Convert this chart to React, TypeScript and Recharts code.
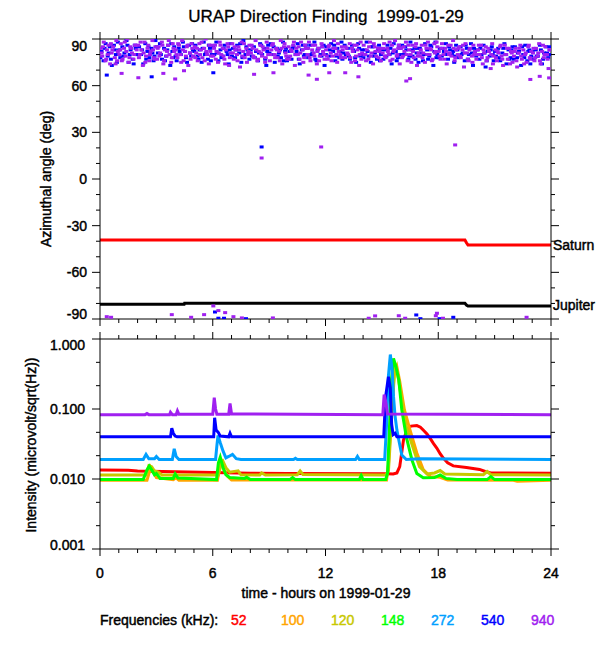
import React from "react";
import { ComposedChart, Scatter, Line, XAxis, YAxis } from "recharts";

const FONT = "'Liberation Sans', Arial, Helvetica, sans-serif";

// tick positions
const hourTicks = [0, 1, 2, 3, 4, 5, 6, 7, 8, 9, 10, 11, 12, 13, 14, 15, 16, 17, 18, 19, 20, 21, 22, 23, 24];
const angleTicks = [-90, -80, -70, -60, -50, -40, -30, -20, -10, 0, 10, 20, 30, 40, 50, 60, 70, 80, 90];
const intensityTicks = [1, 0.4642, 0.2154, 0.1, 0.04642, 0.02154, 0.01, 0.004642, 0.002154, 0.001];
const intensityLabels = [1, 0.1, 0.01, 0.001];

const freqLabels = ["52", "100", "120", "148", "272", "540", "940"];
const freqColors = ["#ff0000", "#ffa500", "#c8c800", "#00ff00", "#00a0ff", "#0000ff", "#a020f0"];

// azimuth of the 940 kHz source, [hour, deg]
const az940: number[][] = [
  [0.04, 84], [0.12, 79], [0.2, 88], [0.29, 76], [0.37, 83], [0.45, 86], [0.54, 74], [0.62, 81], [0.7, 85], [0.79, 78], [0.87, 89], [0.95, 82],
  [1.03, 80], [1.11, 87], [1.2, 77], [1.28, 84], [1.36, 79], [1.45, 90], [1.53, 75], [1.61, 85], [1.7, 81], [1.78, 77], [1.86, 86], [1.95, 83],
  [2.03, 86], [2.12, 80], [2.2, 83], [2.28, 73], [2.37, 88], [2.45, 79], [2.53, 84], [2.62, 76], [2.7, 82], [2.79, 89], [2.87, 78], [2.95, 85],
  [3.04, 77], [3.12, 85], [3.2, 81], [3.29, 88], [3.37, 74], [3.45, 83], [3.54, 79], [3.62, 86], [3.7, 80], [3.79, 75], [3.87, 87], [3.95, 82],
  [4.03, 83], [4.12, 78], [4.2, 86], [4.28, 80], [4.37, 89], [4.45, 76], [4.53, 82], [4.62, 85], [4.7, 73], [4.79, 81], [4.87, 87], [4.95, 79],
  [5.04, 85], [5.12, 81], [5.2, 76], [5.29, 87], [5.37, 83], [5.45, 78], [5.54, 84], [5.62, 90], [5.7, 80], [5.79, 74], [5.87, 82], [5.95, 86],
  [6.03, 79], [6.12, 86], [6.2, 82], [6.28, 75], [6.37, 88], [6.45, 80], [6.53, 84], [6.62, 77], [6.7, 83], [6.79, 87], [6.87, 73], [6.95, 81],
  [7.04, 87], [7.12, 77], [7.2, 83], [7.29, 80], [7.37, 85], [7.45, 72], [7.54, 88], [7.62, 82], [7.7, 78], [7.79, 84], [7.87, 80], [7.95, 86],
  [8.03, 81], [8.12, 84], [8.2, 78], [8.28, 89], [8.37, 76], [8.45, 82], [8.53, 86], [8.62, 79], [8.7, 83], [8.79, 75], [8.87, 88], [8.95, 80],
  [9.04, 76], [9.12, 83], [9.2, 87], [9.29, 80], [9.37, 84], [9.45, 78], [9.54, 82], [9.62, 89], [9.7, 74], [9.79, 85], [9.87, 81], [9.95, 77],
  [10.03, 85], [10.12, 79], [10.2, 82], [10.28, 86], [10.37, 73], [10.45, 84], [10.53, 80], [10.62, 77], [10.7, 88], [10.79, 83], [10.87, 78], [10.95, 84],
  [11.04, 80], [11.12, 88], [11.2, 76], [11.29, 83], [11.37, 81], [11.45, 86], [11.54, 74], [11.62, 84], [11.7, 79], [11.79, 87], [11.87, 82], [11.95, 77],
  [12.03, 83], [12.12, 77], [12.2, 86], [12.28, 81], [12.37, 79], [12.45, 89], [12.53, 84], [12.62, 75], [12.7, 82], [12.79, 80], [12.87, 85], [12.95, 78],
  [13.04, 78], [13.12, 84], [13.2, 80], [13.29, 87], [13.37, 75], [13.45, 82], [13.54, 86], [13.62, 79], [13.7, 83], [13.79, 73], [13.87, 88], [13.95, 81],
  [14.03, 86], [14.12, 80], [14.2, 83], [14.28, 77], [14.37, 88], [14.45, 81], [14.53, 74], [14.62, 85], [14.7, 79], [14.79, 84], [14.87, 82], [14.95, 76],
  [15.04, 81], [15.12, 87], [15.2, 78], [15.29, 84], [15.37, 80], [15.45, 76], [15.54, 86], [15.62, 82], [15.7, 89], [15.79, 79], [15.87, 84], [15.95, 74],
  [16.03, 84], [16.12, 79], [16.2, 82], [16.28, 88], [16.37, 76], [16.45, 83], [16.53, 80], [16.62, 86], [16.7, 78], [16.79, 85], [16.87, 73], [16.95, 81],
  [17.04, 79], [17.12, 86], [17.2, 81], [17.29, 75], [17.37, 84], [17.45, 88], [17.54, 80], [17.62, 83], [17.7, 77], [17.79, 87], [17.87, 82], [17.95, 85],
  [18.03, 82], [18.12, 77], [18.2, 87], [18.28, 80], [18.37, 84], [18.45, 74], [18.53, 86], [18.62, 81], [18.7, 79], [18.79, 89], [18.87, 76], [18.95, 83],
  [19.04, 80], [19.12, 85], [19.2, 78], [19.29, 83], [19.37, 72], [19.45, 87], [19.54, 81], [19.62, 76], [19.7, 84], [19.79, 79], [19.87, 86], [19.95, 82],
  [20.03, 77], [20.12, 83], [20.2, 80], [20.28, 86], [20.37, 74], [20.45, 81], [20.53, 85], [20.62, 78], [20.7, 82], [20.79, 71], [20.87, 87], [20.95, 79],
  [21.04, 83], [21.12, 76], [21.2, 81], [21.29, 85], [21.37, 79], [21.45, 73], [21.54, 86], [21.62, 80], [21.7, 77], [21.79, 84], [21.87, 82], [21.95, 75],
  [22.03, 79], [22.12, 84], [22.2, 72], [22.28, 81], [22.37, 86], [22.45, 77], [22.53, 83], [22.62, 80], [22.7, 75], [22.79, 85], [22.87, 78], [22.95, 82],
  [23.04, 81], [23.12, 76], [23.2, 84], [23.29, 79], [23.37, 87], [23.45, 74], [23.53, 82], [23.62, 78], [23.7, 85], [23.79, 80], [23.87, 71], [23.95, 83],
  // second sweep
  [0.08, 81], [0.16, 85], [0.33, 77], [0.41, 80], [0.58, 87], [0.66, 83], [0.83, 74], [0.91, 76],
  [1.07, 83], [1.16, 76], [1.32, 88], [1.4, 82], [1.57, 78], [1.66, 84], [1.82, 80], [1.91, 86],
  [2.07, 78], [2.16, 88], [2.32, 81], [2.41, 75], [2.57, 86], [2.66, 80], [2.82, 83], [2.91, 77],
  [3.07, 84], [3.16, 79], [3.32, 86], [3.41, 76], [3.57, 82], [3.66, 89], [3.82, 78], [3.91, 84],
  [4.07, 80], [4.16, 87], [4.32, 75], [4.41, 83], [4.57, 79], [4.66, 86], [4.82, 77], [4.91, 84],
  [5.07, 78], [5.16, 84], [5.32, 80], [5.41, 88], [5.57, 76], [5.66, 82], [5.82, 86], [5.91, 79],
  [6.07, 84], [6.16, 77], [6.32, 81], [6.41, 86], [6.57, 79], [6.66, 74], [6.82, 85], [6.91, 78],
  [7.07, 81], [7.16, 85], [7.32, 76], [7.41, 83], [7.57, 79], [7.66, 87], [7.82, 75], [7.91, 82],
  [8.07, 86], [8.16, 79], [8.32, 83], [8.41, 77], [8.57, 81], [8.66, 85], [8.82, 78], [8.91, 84],
  [9.07, 80], [9.16, 86], [9.32, 78], [9.41, 83], [9.57, 76], [9.66, 84], [9.82, 87], [9.91, 79],
  [10.07, 77], [10.16, 83], [10.32, 88], [10.41, 80], [10.57, 85], [10.66, 81], [10.82, 75], [10.91, 86],
  [11.07, 84], [11.16, 78], [11.32, 86], [11.41, 79], [11.57, 82], [11.66, 76], [11.82, 85], [11.91, 80],
  [12.07, 79], [12.16, 85], [12.32, 76], [12.41, 84], [12.57, 80], [12.66, 87], [12.82, 78], [12.91, 83],
  [13.07, 85], [13.16, 81], [13.32, 78], [13.41, 84], [13.57, 76], [13.66, 86], [13.82, 80], [13.91, 77],
  [14.07, 80], [14.16, 76], [14.32, 85], [14.41, 79], [14.57, 87], [14.66, 82], [14.82, 78], [14.91, 84],
  [15.07, 84], [15.16, 79], [15.32, 82], [15.41, 88], [15.57, 77], [15.66, 83], [15.82, 80], [15.91, 86],
  [16.07, 78], [16.16, 85], [16.32, 80], [16.41, 86], [16.57, 75], [16.66, 82], [16.82, 87], [16.91, 79],
  [17.07, 83], [17.16, 78], [17.32, 86], [17.41, 80], [17.57, 84], [17.66, 76], [17.82, 81], [17.91, 88],
  [18.07, 79], [18.16, 84], [18.32, 77], [18.41, 82], [18.57, 80], [18.66, 86], [18.82, 84], [18.91, 78],
  [19.07, 84], [19.16, 79], [19.32, 86], [19.41, 81], [19.57, 77], [19.66, 83], [19.82, 75], [19.91, 80],
  [20.07, 80], [20.16, 86], [20.32, 78], [20.41, 83], [20.57, 76], [20.66, 84], [20.82, 80], [20.91, 74],
  [21.07, 78], [21.16, 82], [21.32, 86], [21.41, 77], [21.57, 80], [21.66, 84], [21.82, 74], [21.91, 81],
  [22.07, 82], [22.16, 76], [22.32, 84], [22.41, 79], [22.57, 74], [22.66, 81], [22.82, 86], [22.91, 77],
  [23.07, 84], [23.16, 78], [23.32, 81], [23.41, 76], [23.57, 86], [23.66, 80], [23.82, 77], [23.91, 83],
  // stragglers
  [1.15, 67.9], [2.04, 65.1], [3.37, 67.9], [4.0, 64.3], [4.47, 69.6], [8.2, 67.3], [9.23, 68.3], [11.1, 66.8], [11.54, 64.1],
  [12.2, 68.3], [13.05, 68.3], [13.75, 65.7], [16.3, 63], [16.5, 64.5], [22.9, 64], [23.4, 66], [23.9, 65],
  [11.77, 20.6], [18.9, 21.9], [8.6, 13.5],
  [0.36, -88.5], [0.59, -88.9], [3.82, -87.2], [4.85, -88.9], [5.54, -87.2], [6.03, -81.6], [6.3, -84.6], [6.66, -85.9],
  [7.1, -88.5], [7.55, -89.3], [9.2, -89.3], [14.3, -89.5], [14.64, -88], [15.9, -87.9], [16.24, -89.5], [17.93, -86.3],
  [17.87, -87.9], [18.25, -89.5], [22.7, -88.9],
];

// azimuth of the 540 kHz source, [hour, deg]
const az540: number[][] = [
  [0.08, 82], [0.19, 76], [0.3, 87], [0.41, 79], [0.52, 85], [0.63, 73], [0.74, 86], [0.85, 80], [0.95, 88],
  [1.08, 78], [1.19, 85], [1.3, 81], [1.41, 89], [1.52, 75], [1.63, 83], [1.74, 77], [1.85, 86], [1.95, 80],
  [2.08, 85], [2.19, 80], [2.3, 74], [2.41, 87], [2.52, 82], [2.63, 78], [2.74, 84], [2.85, 76], [2.95, 89],
  [3.08, 81], [3.19, 87], [3.3, 77], [3.41, 84], [3.52, 79], [3.63, 86], [3.74, 73], [3.85, 82], [3.95, 85],
  [4.08, 76], [4.19, 84], [4.3, 80], [4.41, 88], [4.52, 82], [4.63, 75], [4.74, 86], [4.85, 79], [4.95, 83],
  [5.08, 86], [5.19, 79], [5.3, 83], [5.41, 75], [5.52, 88], [5.63, 81], [5.74, 77], [5.85, 84], [5.95, 80],
  [6.08, 80], [6.19, 88], [6.3, 76], [6.41, 83], [6.52, 79], [6.63, 86], [6.74, 82], [6.85, 74], [6.95, 87],
  [7.08, 84], [7.19, 78], [7.3, 86], [7.41, 81], [7.52, 75], [7.63, 89], [7.74, 80], [7.85, 83], [7.95, 77],
  [8.08, 79], [8.19, 85], [8.3, 82], [8.41, 76], [8.52, 87], [8.63, 80], [8.74, 84], [8.85, 73], [8.95, 86],
  [9.08, 87], [9.19, 80], [9.3, 75], [9.41, 84], [9.52, 81], [9.63, 78], [9.74, 88], [9.85, 82], [9.95, 76],
  [10.08, 82], [10.19, 77], [10.3, 85], [10.41, 80], [10.52, 87], [10.63, 74], [10.74, 83], [10.85, 79], [10.95, 86],
  [11.08, 78], [11.19, 86], [11.3, 81], [11.41, 88], [11.52, 76], [11.63, 84], [11.74, 80], [11.85, 85], [11.95, 73],
  [12.08, 85], [12.19, 79], [12.3, 87], [12.41, 82], [12.52, 76], [12.63, 84], [12.74, 78], [12.85, 88], [12.95, 81],
  [13.08, 80], [13.19, 84], [13.3, 77], [13.41, 86], [13.52, 82], [13.63, 75], [13.74, 87], [13.85, 79], [13.95, 83],
  [14.08, 83], [14.19, 88], [14.3, 79], [14.41, 75], [14.52, 85], [14.63, 81], [14.74, 77], [14.85, 86], [14.95, 80],
  [15.08, 77], [15.19, 83], [15.3, 86], [15.41, 80], [15.52, 74], [15.63, 87], [15.74, 82], [15.85, 78], [15.95, 84],
  [16.08, 86], [16.19, 80], [16.3, 83], [16.41, 77], [16.52, 88], [16.63, 79], [16.74, 84], [16.85, 81], [16.95, 75],
  [17.08, 81], [17.19, 76], [17.3, 87], [17.41, 83], [17.52, 79], [17.63, 85], [17.74, 73], [17.85, 88], [17.95, 80],
  [18.08, 84], [18.19, 79], [18.3, 82], [18.41, 87], [18.52, 77], [18.63, 83], [18.74, 80], [18.85, 75], [18.95, 86],
  [19.08, 78], [19.19, 85], [19.3, 81], [19.41, 76], [19.52, 84], [19.63, 80], [19.74, 87], [19.85, 73], [19.95, 82],
  [20.08, 83], [20.19, 77], [20.3, 80], [20.41, 86], [20.52, 72], [20.63, 82], [20.74, 79], [20.85, 85], [20.95, 76],
  [21.08, 79], [21.19, 84], [21.3, 76], [21.41, 81], [21.52, 87], [21.63, 74], [21.74, 83], [21.85, 78], [21.95, 85],
  [22.08, 85], [22.19, 78], [22.3, 82], [22.41, 73], [22.52, 80], [22.63, 86], [22.74, 76], [22.85, 83], [22.95, 79],
  [23.08, 77], [23.19, 83], [23.3, 79], [23.41, 86], [23.52, 74], [23.63, 81], [23.74, 85], [23.85, 78], [23.95, 80],
  // second sweep
  [0.02, 78], [0.24, 84], [0.46, 81], [0.58, 77], [0.79, 83], [0.9, 75],
  [1.02, 83], [1.24, 79], [1.46, 86], [1.58, 80], [1.79, 74], [1.9, 84],
  [2.02, 80], [2.24, 83], [2.46, 77], [2.58, 85], [2.79, 81], [2.9, 79],
  [3.02, 85], [3.24, 80], [3.46, 76], [3.58, 83], [3.79, 87], [3.9, 78],
  [4.02, 79], [4.24, 82], [4.46, 85], [4.58, 78], [4.79, 81], [4.9, 87],
  [5.02, 82], [5.24, 77], [5.46, 84], [5.58, 80], [5.79, 86], [5.9, 76],
  [6.02, 85], [6.24, 81], [6.46, 78], [6.58, 84], [6.79, 80], [6.9, 83],
  [7.02, 79], [7.24, 83], [7.46, 87], [7.58, 78], [7.79, 85], [7.9, 81],
  [8.02, 83], [8.24, 78], [8.46, 81], [8.58, 86], [8.79, 77], [8.9, 82],
  [9.02, 81], [9.24, 85], [9.46, 79], [9.58, 83], [9.79, 76], [9.9, 84],
  [10.02, 78], [10.24, 84], [10.46, 82], [10.58, 77], [10.79, 86], [10.9, 80],
  [11.02, 84], [11.24, 80], [11.46, 77], [11.58, 83], [11.79, 79], [11.9, 86],
  [12.02, 80], [12.24, 83], [12.46, 86], [12.58, 79], [12.79, 82], [12.9, 77],
  [13.02, 86], [13.24, 79], [13.46, 83], [13.58, 78], [13.79, 84], [13.9, 80],
  [14.02, 78], [14.24, 82], [14.46, 85], [14.58, 79], [14.79, 83], [14.9, 76],
  [15.02, 83], [15.24, 79], [15.46, 84], [15.58, 81], [15.79, 76], [15.9, 86],
  [16.02, 80], [16.24, 85], [16.46, 79], [16.58, 83], [16.79, 77], [16.9, 84],
  [17.02, 84], [17.24, 80], [17.46, 77], [17.58, 86], [17.79, 82], [17.9, 78],
  [18.02, 78], [18.24, 84], [18.46, 80], [18.58, 85], [18.79, 82], [18.9, 79],
  [19.02, 83], [19.24, 80], [19.46, 86], [19.58, 77], [19.79, 81], [19.9, 84],
  [20.02, 79], [20.24, 84], [20.46, 81], [20.58, 76], [20.79, 83], [20.9, 80],
  [21.02, 82], [21.24, 78], [21.46, 84], [21.58, 80], [21.79, 77], [21.9, 83],
  [22.02, 77], [22.24, 81], [22.46, 85], [22.58, 78], [22.79, 82], [22.9, 74],
  [23.02, 82], [23.24, 79], [23.46, 83], [23.58, 77], [23.79, 81], [23.9, 85],
  // stragglers
  [0.36, 66.8], [2.75, 65.7], [6.03, 68.3], [8.6, 20.6],
  [6.12, -85.5], [6.3, -89.5], [6.6, -89.5], [7.77, -89.8], [16.83, -87.4], [17.05, -89.8], [18.07, -89.8], [18.8, -88.9],
];

// planet directions, [hour, deg]
const saturnDir: number[][] = [[0, -39.2], [19.42, -39.2], [19.5, -41], [19.58, -42.4], [24, -42.4]];
const jupiterDir: number[][] = [[0, -80.5], [4.48, -80.5], [4.5, -79.9], [19.42, -79.9], [19.5, -81], [19.58, -81.6], [24, -81.6]];

// intensity, [hour, microvolt/sqrt(Hz)]
const int52: number[][] = [
  [0, 0.0134], [1.5, 0.0133], [2, 0.013], [4, 0.0127], [6, 0.0124], [8, 0.0121], [10, 0.012], [15.3, 0.0119], [15.6, 0.0118],
  [15.8, 0.0122], [15.95, 0.015], [16.15, 0.036], [16.35, 0.052], [16.55, 0.057], [16.86, 0.058], [17.05, 0.055], [17.2, 0.05],
  [17.4, 0.044], [17.57, 0.038], [17.75, 0.032], [17.93, 0.0275], [18.1, 0.023], [18.28, 0.0197], [18.5, 0.017], [18.8, 0.0154],
  [19.5, 0.0146], [20.2, 0.0137], [20.5, 0.0128], [20.8, 0.0122], [24, 0.0121],
];
const int100: number[][] = [
  [0, 0.0096], [2.5, 0.0096], [2.7, 0.0147], [2.85, 0.0125], [3, 0.0105], [3.9, 0.0098], [4.05, 0.0104], [4.2, 0.0096],
  [6.25, 0.0096], [6.4, 0.017], [6.5, 0.018], [6.6, 0.0135], [6.8, 0.0108], [7, 0.0097], [15.25, 0.0097], [15.35, 0.016],
  [15.5, 0.08], [15.65, 0.3], [15.8, 0.4], [15.95, 0.25], [16.2, 0.097], [16.5, 0.05], [16.86, 0.0235], [17.2, 0.0136],
  [17.57, 0.0108], [18.1, 0.0106], [18.5, 0.0097], [22, 0.0096], [22.2, 0.0093], [24, 0.0096],
];
const int120: number[][] = [
  [0, 0.0114], [2.45, 0.0114], [2.6, 0.0155], [2.75, 0.015], [2.9, 0.013], [3.1, 0.0125], [3.3, 0.0114], [6.3, 0.0114],
  [6.45, 0.0165], [6.55, 0.0178], [6.7, 0.0145], [6.9, 0.0125], [7.35, 0.0131], [7.5, 0.0115], [8.5, 0.0114], [8.6, 0.0122],
  [8.8, 0.0114], [10.5, 0.0115], [10.65, 0.013], [10.8, 0.0116], [15.2, 0.0114], [15.35, 0.013], [15.5, 0.06], [15.7, 0.45],
  [15.85, 0.3], [16.06, 0.134], [16.3, 0.056], [16.7, 0.026], [17, 0.015], [17.4, 0.0118], [17.8, 0.0122], [18.1, 0.0132],
  [18.35, 0.0118], [20.4, 0.0115], [20.6, 0.0128], [20.8, 0.0115], [24, 0.0114],
];
const int148: number[][] = [
  [0, 0.0098], [2.3, 0.0098], [2.5, 0.0135], [2.62, 0.0153], [2.75, 0.0135], [2.9, 0.0115], [3, 0.012], [3.2, 0.0102],
  [3.9, 0.0102], [4, 0.0118], [4.15, 0.0103], [6.2, 0.0098], [6.3, 0.017], [6.4, 0.0205], [6.55, 0.0145], [6.7, 0.0115],
  [6.9, 0.0105], [7.7, 0.0102], [7.8, 0.0106], [8, 0.0098], [10.1, 0.0098], [10.25, 0.0105], [10.4, 0.0098], [13.8, 0.0098],
  [13.9, 0.0112], [14, 0.0098], [15.2, 0.0098], [15.3, 0.012], [15.4, 0.05], [15.5, 0.25], [15.62, 0.53], [15.75, 0.4],
  [15.9, 0.26], [16.06, 0.097], [16.3, 0.04], [16.6, 0.0187], [16.86, 0.012], [17.2, 0.0104], [17.8, 0.0105], [18.1, 0.0114],
  [18.4, 0.0102], [19, 0.0098], [20.6, 0.0098], [20.8, 0.0108], [21, 0.0098], [24, 0.0098],
];
const int272: number[][] = [
  [0, 0.019], [2.3, 0.019], [2.45, 0.0225], [2.6, 0.0195], [2.9, 0.0195], [3, 0.021], [3.15, 0.019], [3.85, 0.019],
  [3.95, 0.027], [4.05, 0.021], [4.2, 0.019], [6.15, 0.019], [6.22, 0.03], [6.28, 0.042], [6.4, 0.033], [6.55, 0.025],
  [6.7, 0.02], [6.85, 0.021], [7.05, 0.0225], [7.25, 0.0195], [7.5, 0.019], [10.3, 0.019], [10.4, 0.0198], [10.5, 0.019],
  [13.6, 0.019], [13.7, 0.021], [13.8, 0.019], [15.15, 0.019], [15.25, 0.06], [15.35, 0.3], [15.45, 0.6], [15.55, 0.35],
  [15.62, 0.15], [15.7, 0.08], [15.8, 0.05], [15.9, 0.036], [16.06, 0.022], [16.3, 0.019], [17, 0.0195], [24, 0.019],
];
const int540: number[][] = [
  [0, 0.04], [3.75, 0.04], [3.82, 0.053], [3.9, 0.045], [4, 0.041], [4.1, 0.04], [6.05, 0.04], [6.1, 0.075], [6.18, 0.05],
  [6.3, 0.046], [6.4, 0.041], [6.85, 0.04], [6.92, 0.045], [7, 0.04], [15.1, 0.04], [15.2, 0.15], [15.35, 0.29], [15.45, 0.2],
  [15.52, 0.06], [15.6, 0.043], [15.7, 0.045], [15.8, 0.04], [24, 0.04],
];
const int940: number[][] = [
  [0, 0.083], [2.4, 0.083], [2.5, 0.086], [2.6, 0.083], [3.7, 0.083], [3.75, 0.09], [3.85, 0.083], [4.05, 0.083], [4.12, 0.094],
  [4.2, 0.084], [6, 0.084], [6.08, 0.145], [6.15, 0.1], [6.22, 0.084], [6.85, 0.084], [6.92, 0.12], [7, 0.085], [15.05, 0.083],
  [15.12, 0.16], [15.2, 0.13], [15.3, 0.085], [24, 0.083],
];

const intensitySeries = [int52, int100, int120, int148, int272, int540, int940];

const toAz = (pts: number[][]) => pts.map(([h, a]) => ({ h, a }));
const toInt = (pts: number[][]) => pts.map(([h, v]) => ({ h, v }));

const textStyle = { fontFamily: FONT, fontSize: 14, fill: "#000", stroke: "#000", strokeWidth: 0.45 };

function HourTick(props: any) {
  const { x, y, payload, dir, showLabel } = props;
  const major = payload.value % 6 === 0;
  const len = major ? 7 : 4;
  return (
    <g>
      <line x1={x} y1={y} x2={x} y2={y + dir * len} stroke="#000" />
      {showLabel && major && (
        <text x={x} y={y + 29} textAnchor="middle" {...textStyle}>
          {payload.value}
        </text>
      )}
    </g>
  );
}

function AngleTick(props: any) {
  const { x, y, payload, side } = props;
  const v = payload.value;
  const major = v % 30 === 0;
  const len = major ? 8 : 4;
  const dir = side === "left" ? -1 : 1;
  let ly = y + 5;
  if (v === 90) ly = y + 12;
  if (v === -90) ly = y;
  return (
    <g>
      <line x1={x} y1={y} x2={x + dir * len} y2={y} stroke="#000" />
      {side === "left" && major && (
        <text x={x - 13} y={ly} textAnchor="end" {...textStyle}>
          {v}
        </text>
      )}
    </g>
  );
}

function IntensityTick(props: any) {
  const { x, y, payload, side } = props;
  const v = payload.value;
  const major = intensityLabels.includes(v);
  const len = major ? 8 : 4;
  const dir = side === "left" ? -1 : 1;
  let ly = y + 5;
  if (v === 1) ly = y + 11;
  if (v === 0.001) ly = y + 1;
  return (
    <g>
      <line x1={x} y1={y} x2={x + dir * len} y2={y} stroke="#000" />
      {side === "left" && major && (
        <text x={x - 15} y={ly} textAnchor="end" {...textStyle}>
          {v.toFixed(3)}
        </text>
      )}
    </g>
  );
}

const axisLine = { stroke: "#000", strokeWidth: 1 };

function AzimuthPanel() {
  return (
    <ComposedChart width={600} height={330} margin={{ top: 29, right: 39, bottom: 1, left: 40 }}>
      <XAxis
        xAxisId="b"
        type="number"
        dataKey="h"
        domain={[0, 24]}
        allowDataOverflow
        ticks={hourTicks}
        interval={0}
        height={10}
        tickSize={0}
        tickMargin={0}
        tickLine={false}
        axisLine={axisLine}
        tick={(p: any) => <HourTick {...p} dir={1} />}
      />
      <XAxis
        xAxisId="t"
        orientation="top"
        type="number"
        dataKey="h"
        domain={[0, 24]}
        allowDataOverflow
        ticks={hourTicks}
        interval={0}
        height={10}
        tickSize={0}
        tickMargin={0}
        tickLine={false}
        axisLine={axisLine}
        tick={(p: any) => <HourTick {...p} dir={-1} />}
      />
      <YAxis
        yAxisId="l"
        type="number"
        dataKey="a"
        domain={[-90, 90]}
        allowDataOverflow
        ticks={angleTicks}
        interval={0}
        width={60}
        tickSize={0}
        tickMargin={0}
        tickLine={false}
        axisLine={axisLine}
        tick={(p: any) => <AngleTick {...p} side="left" />}
      />
      <YAxis
        yAxisId="r"
        orientation="right"
        type="number"
        dataKey="a"
        domain={[-90, 90]}
        allowDataOverflow
        ticks={angleTicks}
        interval={0}
        width={10}
        tickSize={0}
        tickMargin={0}
        tickLine={false}
        axisLine={axisLine}
        tick={(p: any) => <AngleTick {...p} side="right" />}
      />
      <Line xAxisId="b" yAxisId="l" data={toAz(saturnDir)} dataKey="a" stroke="#ff0000" strokeWidth={3} dot={false} isAnimationActive={false} />
      <Line xAxisId="t" yAxisId="r" data={toAz(jupiterDir)} dataKey="a" stroke="#000" strokeWidth={3} dot={false} isAnimationActive={false} />
      <Scatter
        xAxisId="b"
        yAxisId="l"
        data={toAz(az540)}
        isAnimationActive={false}
        shape={(p: any) => <rect x={p.cx - 2} y={p.cy - 1.5} width={4} height={3} fill="#0000ff" />}
      />
      <Scatter
        xAxisId="b"
        yAxisId="l"
        data={toAz(az940)}
        isAnimationActive={false}
        shape={(p: any) => <rect x={p.cx - 2} y={p.cy - 1.5} width={4} height={3} fill="#a020f0" />}
      />
    </ComposedChart>
  );
}

function IntensityPanel() {
  return (
    <ComposedChart width={600} height={320} margin={{ top: 4, right: 39, bottom: 61, left: 40 }}>
      <XAxis
        xAxisId="b"
        type="number"
        dataKey="h"
        domain={[0, 24]}
        allowDataOverflow
        ticks={hourTicks}
        interval={0}
        height={40}
        tickSize={0}
        tickMargin={0}
        tickLine={false}
        axisLine={axisLine}
        tick={(p: any) => <HourTick {...p} dir={1} showLabel />}
      />
      <XAxis
        xAxisId="t"
        orientation="top"
        type="number"
        dataKey="h"
        domain={[0, 24]}
        allowDataOverflow
        ticks={hourTicks}
        interval={0}
        height={5}
        tickSize={0}
        tickMargin={0}
        tickLine={false}
        axisLine={axisLine}
        tick={(p: any) => <HourTick {...p} dir={-1} />}
      />
      <YAxis
        yAxisId="l"
        type="number"
        scale="log"
        domain={[0.001, 1]}
        allowDataOverflow
        ticks={intensityTicks}
        interval={0}
        width={60}
        tickSize={0}
        tickMargin={0}
        tickLine={false}
        axisLine={axisLine}
        tick={(p: any) => <IntensityTick {...p} side="left" />}
      />
      <YAxis
        yAxisId="r"
        orientation="right"
        type="number"
        scale="log"
        domain={[0.001, 1]}
        allowDataOverflow
        ticks={intensityTicks}
        interval={0}
        width={10}
        tickSize={0}
        tickMargin={0}
        tickLine={false}
        axisLine={axisLine}
        tick={(p: any) => <IntensityTick {...p} side="right" />}
      />
      {intensitySeries.map((s, i) => (
        <Line
          key={freqLabels[i]}
          xAxisId={i === 0 ? "t" : "b"}
          yAxisId={i === 0 ? "r" : "l"}
          data={toInt(s)}
          dataKey="v"
          stroke={freqColors[i]}
          strokeWidth={3}
          dot={false}
          isAnimationActive={false}
        />
      ))}
    </ComposedChart>
  );
}

export default function App() {
  return (
    <div style={{ position: "absolute", left: 0, top: 0, width: 600, height: 650, background: "#fff" }}>
      <div style={{ position: "absolute", left: 0, top: 0 }}>
        <AzimuthPanel />
      </div>
      <div style={{ position: "absolute", left: 0, top: 330 }}>
        <IntensityPanel />
      </div>
      <svg width={600} height={650} style={{ position: "absolute", left: 0, top: 0, pointerEvents: "none" }}>
        <text x={326} y={22} textAnchor="middle" {...textStyle} fontSize={17} strokeWidth={0.3} style={{ whiteSpace: "pre" }}>
          {"URAP Direction Finding  1999-01-29"}
        </text>
        <text transform="translate(51,179) rotate(-90)" textAnchor="middle" {...textStyle}>
          Azimuthal angle (deg)
        </text>
        <text transform="translate(36,445) rotate(-90)" textAnchor="middle" {...textStyle}>
          Intensity (microvolt/sqrt(Hz))
        </text>
        <text x={553} y={250} {...textStyle}>Saturn</text>
        <text x={553} y={310} {...textStyle}>Jupiter</text>
        <text x={326} y={598} textAnchor="middle" {...textStyle}>
          time - hours on 1999-01-29
        </text>
        <text x={100} y={625} {...textStyle}>Frequencies (kHz):</text>
        {freqLabels.map((f, i) => (
          <text key={f} x={231 + 50 * i} y={625} {...textStyle} fill={freqColors[i]} stroke={freqColors[i]}>
            {f}
          </text>
        ))}
      </svg>
    </div>
  );
}
